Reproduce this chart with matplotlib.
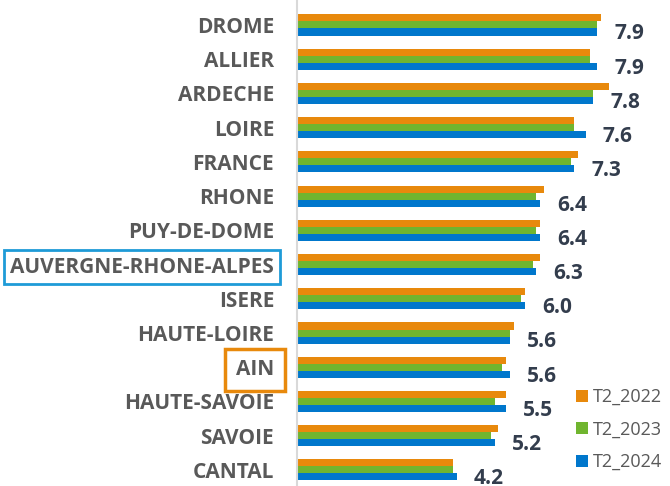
import matplotlib
matplotlib.use("Agg")
import matplotlib.pyplot as plt
import numpy as np

# data
regions = ["DROME", "ALLIER", "ARDECHE", "LOIRE", "FRANCE", "RHONE", "PUY-DE-DOME",
           "AUVERGNE-RHONE-ALPES", "ISERE", "HAUTE-LOIRE", "AIN", "HAUTE-SAVOIE",
           "SAVOIE", "CANTAL"]
t2_2022 = [8.0, 7.7, 8.2, 7.3, 7.4, 6.5, 6.4, 6.4, 6.0, 5.7, 5.5, 5.5, 5.3, 4.1]
t2_2023 = [7.9, 7.7, 7.8, 7.3, 7.2, 6.3, 6.3, 6.2, 5.9, 5.6, 5.4, 5.2, 5.1, 4.1]
t2_2024 = [7.9, 7.9, 7.8, 7.6, 7.3, 6.4, 6.4, 6.3, 6.0, 5.6, 5.6, 5.5, 5.2, 4.2]
series_names = ["T2_2022", "T2_2023", "T2_2024"]
colors = ["#E8890C", "#70B52F", "#0077CC"]

plt.rcParams['font.family'] = ["Open Sans", "DejaVu Sans"]

fig = plt.figure(figsize=(6.7, 4.86), dpi=100)
ax = fig.add_axes([297 / 670, 0, 361 / 670, 1])

y = np.arange(len(regions))
h = 0.205
for k, (vals, col, name) in enumerate(zip([t2_2022, t2_2023, t2_2024], colors, series_names)):
    ax.barh(y + (k - 1) * h, vals, height=h, color=col, label=name)

for yi, v in zip(y, t2_2024):
    ax.text(v + 0.45, yi + 0.26, f"{v:.1f}", fontsize=15, fontweight="bold",
            color="#333D4D", va="center", ha="left")

ax.set_xlim(0, 9.5)
ax.set_ylim(13.47, -0.73)
ax.set_yticks(y)
ax.set_yticklabels(regions, fontsize=15, fontweight="bold", color="#595959")
ax.tick_params(axis="y", length=0, pad=16.5)
ax.set_xticks([])
for s in ["top", "right", "bottom"]:
    ax.spines[s].set_visible(False)
ax.spines["left"].set_color("#D9D9D9")
ax.spines["left"].set_linewidth(1.5)

labels = ax.get_yticklabels()
labels[regions.index("AUVERGNE-RHONE-ALPES")].set_bbox(
    dict(boxstyle="square,pad=0.3", facecolor="none", edgecolor="#1E9BD7", linewidth=2))
labels[regions.index("AIN")].set_bbox(
    dict(boxstyle="square,pad=0.5", facecolor="none", edgecolor="#E8890C", linewidth=2.5))

leg = fig.legend(loc="upper left", bbox_to_anchor=(576 / 670, 1 - 388 / 486), frameon=False,
                 borderpad=0, borderaxespad=0,
                 fontsize=13, handlelength=0.64, handleheight=0.64, handletextpad=0.3,
                 labelspacing=0.8, labelcolor="#595959")

fig.savefig("out.png", dpi=100)
